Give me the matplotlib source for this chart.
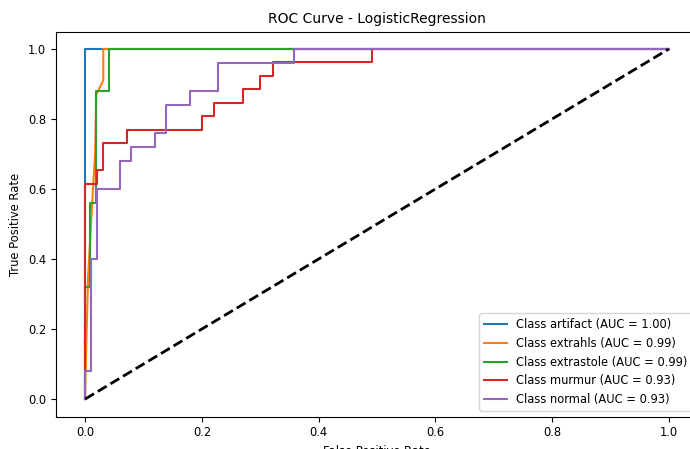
import matplotlib
matplotlib.use("Agg")
import matplotlib.pyplot as plt

# ROC points
classes = ["artifact", "extrahls", "extrastole", "murmur", "normal"]
aucs = [1.00, 0.99, 0.99, 0.93, 0.93]

fpr_artifact = [0.0, 0.0, 1.0]
tpr_artifact = [0.0, 1.0, 1.0]

fpr_extrahls = [0.0, 0.0, 0.005, 0.014, 0.017, 0.019, 0.031, 0.031, 1.0]
tpr_extrahls = [0.0, 0.03, 0.35, 0.62, 0.70, 0.87, 0.91, 1.0, 1.0]

fpr_extrastole = [0.0, 0.0, 0.009, 0.009, 0.019, 0.019, 0.04, 0.04, 1.0]
tpr_extrastole = [0.0, 0.32, 0.32, 0.56, 0.56, 0.88, 0.88, 1.0, 1.0]

fpr_murmur = [0.0, 0.0, 0.021, 0.021, 0.030, 0.030, 0.071, 0.071, 0.20, 0.20, 0.221,
              0.221, 0.271, 0.271, 0.30, 0.30, 0.321, 0.321, 0.492, 0.492, 1.0]
tpr_murmur = [0.0, 0.615, 0.615, 0.654, 0.654, 0.731, 0.731, 0.769, 0.769, 0.808, 0.808,
              0.846, 0.846, 0.885, 0.885, 0.923, 0.923, 0.962, 0.962, 1.0, 1.0]

fpr_normal = [0.0, 0.0, 0.01, 0.01, 0.02, 0.02, 0.06, 0.06, 0.079, 0.079, 0.12,
              0.12, 0.139, 0.139, 0.179, 0.179, 0.228, 0.228, 0.358, 0.358, 1.0]
tpr_normal = [0.0, 0.08, 0.08, 0.40, 0.40, 0.60, 0.60, 0.68, 0.68, 0.72, 0.72,
              0.76, 0.76, 0.84, 0.84, 0.88, 0.88, 0.96, 0.96, 1.0, 1.0]

fprs = [fpr_artifact, fpr_extrahls, fpr_extrastole, fpr_murmur, fpr_normal]
tprs = [tpr_artifact, tpr_extrahls, tpr_extrastole, tpr_murmur, tpr_normal]

fig = plt.figure(figsize=(6.9, 4.49), dpi=100)
# axes run past the right edge, like the cropped screenshot
ax = fig.add_axes([56 / 690, 32.5 / 449, 642 / 690, 385 / 449])

for name, auc, fpr, tpr in zip(classes, aucs, fprs, tprs):
  ax.plot(fpr, tpr, label=f"Class {name} (AUC = {auc:.2f})")

ax.plot([0, 1], [0, 1], "k--", lw=2)
ax.set_xlabel("False Positive Rate", fontsize=8.3)
ax.set_ylabel("True Positive Rate", fontsize=8.3)
ax.set_title("ROC Curve - LogisticRegression", fontsize=10)
ax.tick_params(labelsize=8.3)
ax.legend(loc="lower right", fontsize=8.3)

fig.savefig("out.png", dpi=100)
